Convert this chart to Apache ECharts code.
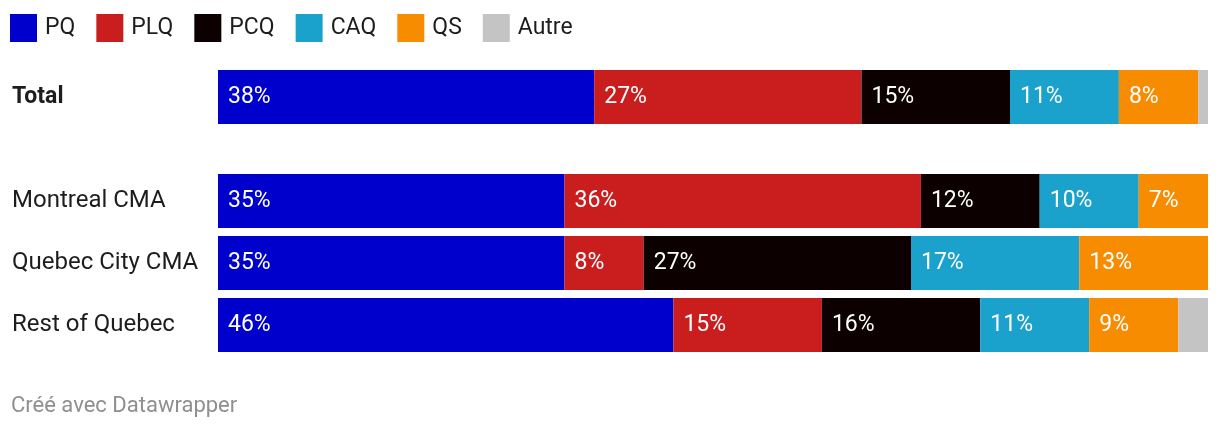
<!DOCTYPE html>
<html>
<head>
<meta charset="utf-8">
<script src="https://cdn.jsdelivr.net/npm/echarts@6/dist/echarts.min.js"></script>
<style>
html,body{margin:0;padding:0;background:#fff;}
#chart{width:1220px;height:428px;}
</style>
</head>
<body>
<div id="chart"></div>
<script>
const parties = ["PQ", "PLQ", "PCQ", "CAQ", "QS", "Autre"];
const colors = ["#0000CC", "#CA1E1E", "#0C0000", "#1AA2CD", "#F88C00", "#C4C4C4"];
const totalCategory = ["Total"];
const regionCategories = ["Montreal CMA", "Quebec City CMA", "Rest of Quebec"];

const totalPQ = [38], totalPLQ = [27], totalPCQ = [15], totalCAQ = [11], totalQS = [8], totalAutre = [1];
const PQ = [35, 35, 46];
const PLQ = [36, 8, 15];
const PCQ = [12, 27, 16];
const CAQ = [10, 17, 11];
const QS = [7, 13, 9];
const Autre = [0, 0, 3];

const totalData = [totalPQ, totalPLQ, totalPCQ, totalCAQ, totalQS, totalAutre];
const regionData = [PQ, PLQ, PCQ, CAQ, QS, Autre];

const FONT = "Roboto";
const series = [];
function mk(data, gi) {
  parties.forEach((p, i) => {
    series.push({
      name: p,
      type: "bar",
      stack: "s" + gi,
      xAxisIndex: gi,
      yAxisIndex: gi,
      barWidth: 54,
      data: data[i],
      itemStyle: { color: colors[i] },
      label: {
        show: p !== "Autre",
        position: "insideLeft",
        distance: 10,
        color: "#fff",
        fontFamily: FONT,
        fontSize: 23,
        formatter: (d) => d.value > 0 ? d.value + "%" : ""
      },
      emphasis: { disabled: true },
      animation: false
    });
  });
}
mk(totalData, 0);
mk(regionData, 1);

const chart = echarts.init(document.getElementById("chart"), null, { renderer: "canvas" });
chart.setOption({
  animation: false,
  textStyle: { fontFamily: FONT },
  title: {
    text: "Créé avec Datawrapper",
    left: 11, top: 395,
    padding: 0,
    textStyle: { fontFamily: FONT, fontSize: 22, fontWeight: "normal", color: "#8f8f8f" }
  },
  legend: {
    data: parties,
    left: 10, top: 14,
    padding: 0,
    itemWidth: 27, itemHeight: 28,
    itemGap: 21,
    icon: "rect",
    selectedMode: false,
    textStyle: { fontFamily: FONT, fontSize: 23, color: "#1d1d1d", padding: [4, 0, 0, 3] }
  },
  grid: [
    { left: 218, right: 12, top: 70, height: 54 },
    { left: 218, right: 12, top: 170, height: 186 }
  ],
  xAxis: [
    { type: "value", gridIndex: 0, min: 0, max: 100, show: false },
    { type: "value", gridIndex: 1, min: 0, max: 100, show: false }
  ],
  yAxis: [
    {
      type: "category", gridIndex: 0, data: totalCategory, inverse: true,
      axisLine: { show: false }, axisTick: { show: false },
      axisLabel: { align: "left", margin: 206, fontFamily: FONT, fontSize: 23, fontWeight: "bold", color: "#1d1d1d" }
    },
    {
      type: "category", gridIndex: 1, data: regionCategories, inverse: true,
      axisLine: { show: false }, axisTick: { show: false },
      axisLabel: { align: "left", margin: 206, fontFamily: FONT, fontSize: 24, color: "#1d1d1d" }
    }
  ],
  series: series
});
</script>
</body>
</html>
